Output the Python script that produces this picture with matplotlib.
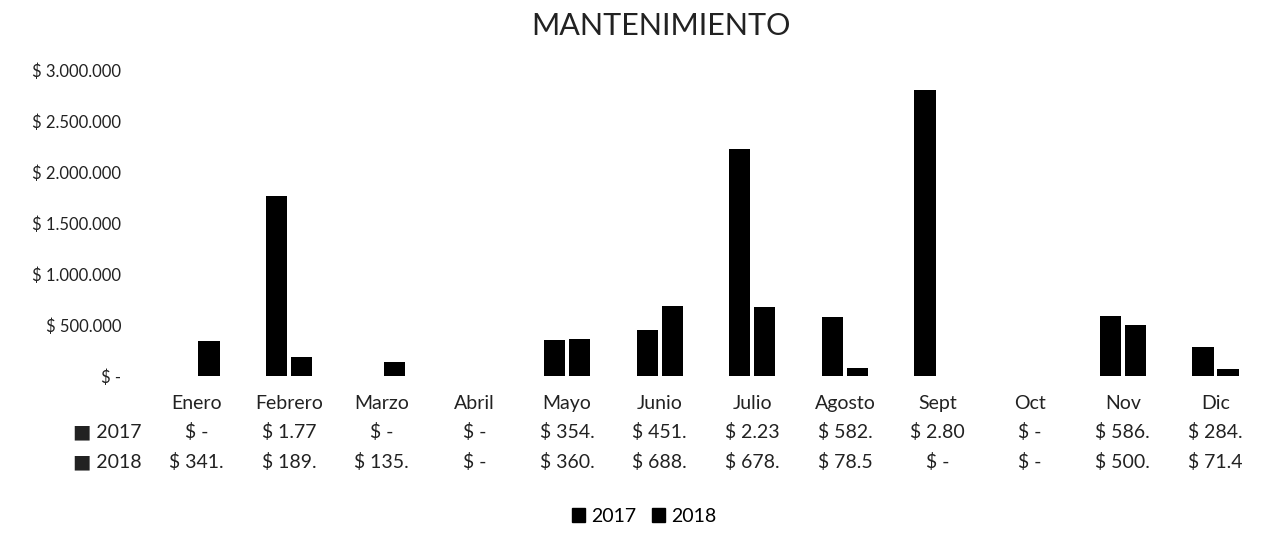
import numpy as np
from matplotlib import pyplot as plt
from matplotlib import transforms
from matplotlib.patches import Patch

meses = ["Enero", "Febrero", "Marzo", "Abril", "Mayo", "Junio",
         "Julio", "Agosto", "Sept", "Oct", "Nov", "Dic"]
v2017 = [0, 1770000, 0, 0, 354000, 451000, 2230000, 582000, 2800000, 0, 586000, 284000]
v2018 = [341000, 189000, 135000, 0, 360000, 688000, 678000, 78500, 0, 0, 500000, 71400]
yticks = [0, 500000, 1000000, 1500000, 2000000, 2500000, 3000000]


def pesos(v, corte=None):
    if v == 0:
        return "$ -"
    s = "$ " + f"{v:,.0f}".replace(",", ".")
    return s[:corte] if corte else s


plt.rcParams['font.family'] = ['Lato', 'DejaVu Sans']

fig = plt.figure(figsize=(12.63, 5.39), dpi=100)
ax = fig.add_axes([0.119, 0.302, 0.88, 0.568])

x = np.arange(len(meses))
w = 0.23
ax.bar(x - w / 2 - 0.02, v2017, w, color="black", label="2017")
ax.bar(x + w / 2 + 0.02, v2018, w, color="black", label="2018")

ax.set_xlim(-0.5, len(meses) - 0.5)
ax.set_ylim(0, 3000000)
ax.set_yticks(yticks)
ax.set_yticklabels([pesos(t) for t in yticks], fontsize=12, color="#222222")
ax.tick_params(axis="y", length=0, pad=21)
ax.set_xticks([])
for s in ax.spines.values():
    s.set_visible(False)

# tabla de datos debajo
tr = transforms.blended_transform_factory(ax.transData, fig.transFigure)
fs = 14
for i, m in enumerate(meses):
    ax.text(i, 0.252, m, transform=tr, ha="center", va="center", fontsize=fs, color="#222222")
    ax.text(i, 0.198, pesos(v2017[i], 6), transform=tr, ha="center", va="center", fontsize=fs, color="#222222")
    ax.text(i, 0.143, pesos(v2018[i], 6), transform=tr, ha="center", va="center", fontsize=fs, color="#222222")
fig.text(0.058, 0.198, "■ 2017", ha="left", va="center", fontsize=fs, color="#222222")
fig.text(0.058, 0.143, "■ 2018", ha="left", va="center", fontsize=fs, color="#222222")

fig.suptitle("MANTENIMIENTO", y=0.952, x=0.523, fontsize=22, color="#222222", va="center")

handles = [Patch(color="black", label="2017"), Patch(color="black", label="2018")]
fig.legend(handles=handles, loc="center", bbox_to_anchor=(0.51, 0.042), ncol=2, frameon=False,
           fontsize=fs, handlelength=0.7, handleheight=0.7, handletextpad=0.3, columnspacing=0.8)

plt.savefig("out.png", dpi=100)
